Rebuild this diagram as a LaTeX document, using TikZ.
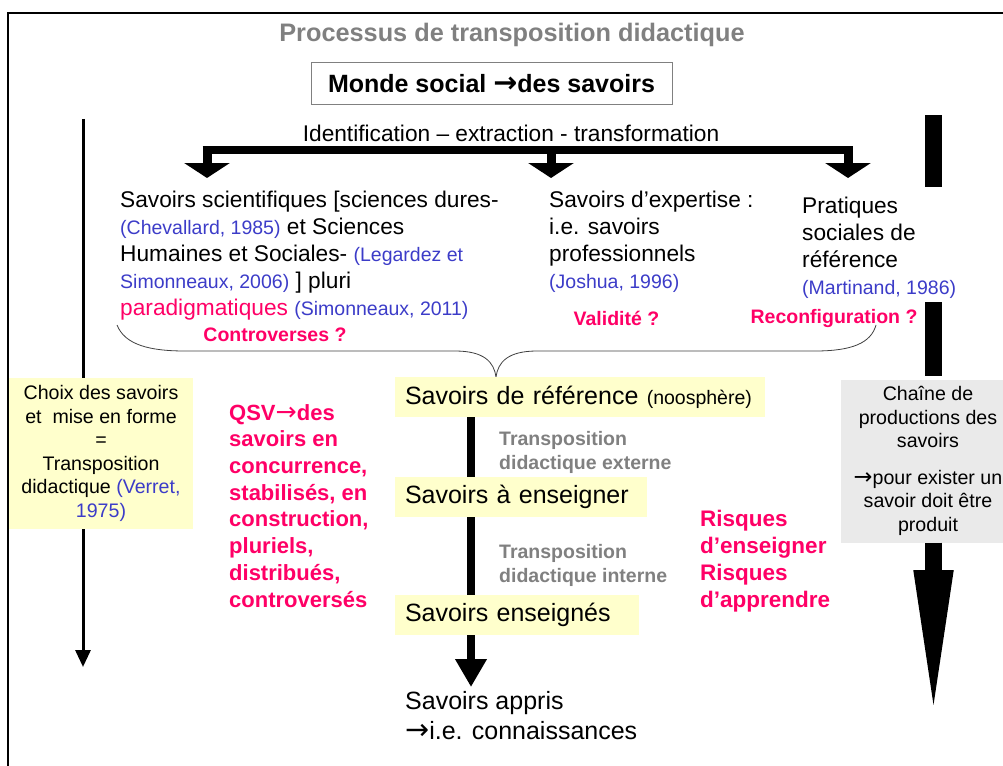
\documentclass[tikz,border=0pt]{standalone}
\usepackage{fontspec}
\setmainfont{Liberation Sans}
\newfontfamily\arrfont{DejaVu Sans}
\usetikzlibrary{arrows.meta}
\definecolor{cred}{RGB}{255,0,102}
\definecolor{cblue}{RGB}{60,60,200}
\definecolor{cgray}{RGB}{128,128,128}
\definecolor{cyel}{RGB}{255,255,204}
\definecolor{cbox}{RGB}{234,234,234}
\newcommand{\arr}{{\arrfont\scalebox{1.15}{→}}}
\newcommand{\cit}[1]{{\fontsize{19.5}{27}\selectfont\color{cblue}#1}}
\tikzset{
  plain/.style={inner sep=0pt, align=left, anchor=base west},
  txt/.style={plain, font=\fontsize{22.7}{27}\selectfont},
  redq/.style={inner sep=0pt, font=\bfseries\fontsize{19.5}{24}\selectfont, text=cred},
  grayt/.style={plain, font=\bfseries\fontsize{19.5}{24}\selectfont, text=cgray},
  yelbox/.style={fill=cyel, inner xsep=10pt, inner ysep=0pt, minimum height=40pt, align=left, font=\fontsize{25}{30}\selectfont},
  shaft/.style={line width=8pt},
  bigbar/.style={fill=black},
}
\begin{document}
\begin{tikzpicture}[x=1pt,y=-1pt]
\useasboundingbox (0,0) rectangle (1003,765);
% frame
\draw[line width=2pt] (8,766) -- (8,13) -- (1004,13);
% title
\node[font=\bfseries\fontsize{25.3}{28}\selectfont, text=cgray] (title) at (512,35) {Processus de transposition didactique};
\node[draw=cgray, line width=1pt, minimum width=361pt, minimum height=42pt, inner sep=0pt, font=\bfseries\fontsize{25}{28}\selectfont] (monde) at (491.5,84) {Monde social \arr des savoirs};
\node[font=\fontsize{22.7}{27}\selectfont, inner sep=0pt] (ident) at (511,133) {Identification – extraction - transformation};
% three arrows
\coordinate (b1) at (207,150);
\coordinate (b2) at (551,150);
\coordinate (b3) at (848,150);
\coordinate (t1) at (207,178);
\coordinate (t2) at (551,178);
\coordinate (t3) at (848,178);
\draw[line width=8pt] ([xshift=-4.5pt]b1) -- ([xshift=4.5pt]b3);
\foreach \i in {1,2,3}{
  \draw[line width=9pt, -{Triangle[width=45pt,length=15pt]}] (b\i) -- (t\i);
}
% top text blocks (base = last line)
\node[txt] (sci) at (120,315) {Savoirs scientifiques [sciences dures-\\\cit{(Chevallard, 1985)} et Sciences\\Humaines et Sociales- \cit{(Legardez et}\\\cit{Simonneaux, 2006)} ] pluri\\{\color{cred}paradigmatiques} \cit{(Simonneaux, 2011)}};
\node[txt] (exp) at (549,288) {Savoirs d’expertise :\\i.e. savoirs\\professionnels\\\cit{(Joshua, 1996)}};
\node[txt] (prat) at (802,294) {Pratiques\\sociales de\\référence\\\cit{(Martinand, 1986)}};
\node[redq] (contro) at (275,335) {Controverses ?};
\node[redq] (valid) at (616.5,318) {Validité ?};
\node[redq] (reconf) at (834,318) {Reconfiguration ?};
% brace
\coordinate (brL) at (117,325);
\coordinate (brR) at (876,325);
\coordinate (brT) at (496,377);
\draw[line width=0.8pt, black!75] (brL) .. controls (125,345) and (150,351) .. (185,351) -- (455,351) .. controls (484,351) and (494,362) .. (brT) .. controls (498,362) and (508,351) .. (537,351) -- (815,351) .. controls (852,351) and (871,343) .. (brR);
% left arrow and box
\draw[line width=3pt, -{Triangle[width=15pt,length=17pt]}] (83,119) coordinate (lt) -- (83,667) coordinate (lb);
\node[fill=cyel, minimum width=184pt, minimum height=151pt, inner sep=0pt, align=center, font=\fontsize{19.6}{23.5}\selectfont] (choix) at (101,453.5) {Choix des savoirs\\et\ \ mise en forme\\=\\Transposition\\didactique {\color{cblue}(Verret,}\\{\color{cblue}1975)}};
% QSV
\node[plain, font=\bfseries\fontsize{22}{26.7}\selectfont, text=cred] (qsv) at (229,607) {QSV{\mdseries\arr}des\\savoirs en\\concurrence,\\stabilisés, en\\construction,\\pluriels,\\distribués,\\controversés};
% center column
\node[yelbox, text width=350pt] (ref) at (580,397) {Savoirs de référence {\fontsize{19.5}{24}\selectfont(noosphère)}};
\node[yelbox, text width=232pt] (aens) at (521,497) {Savoirs à enseigner};
\node[yelbox, text width=224pt] (ensd) at (517,615) {Savoirs enseignés};
\coordinate (cx) at (471,0);
\draw[shaft] (ref.south -| cx) -- (aens.north -| cx);
\draw[shaft] (aens.south -| cx) -- (ensd.north -| cx);
\coordinate (tipc) at (471,687);
\draw[shaft, -{Triangle[width=30pt,length=28pt]}] (ensd.south -| cx) -- (tipc);
\node[plain, font=\fontsize{25}{30}\selectfont] (appris) at (405,739) {Savoirs appris\\\arr i.e. connaissances};
\node[grayt] (ext) at (499,469) {Transposition\\didactique externe};
\node[grayt] (int) at (499,582) {Transposition\\didactique interne};
\node[plain, font=\bfseries\fontsize{22.5}{26.7}\selectfont, text=cred] (risq) at (700,607) {Risques\\d’enseigner\\Risques\\d’apprendre};
% right chain
\fill[bigbar] (925,115) rectangle (942,187);
\fill[bigbar] (925,302) rectangle (942,376);
\node[fill=cbox, minimum width=174pt, minimum height=163pt, inner sep=0pt, align=center, font=\fontsize{19.6}{23.5}\selectfont] (chaine) at (928,461) {Chaîne de\\productions des\\savoirs\\[13pt]\arr pour exister un\\savoir doit être\\produit};
\coordinate (tipr) at (933.5,722);
\draw[line width=17pt, -{Triangle[width=35pt,length=152pt]}] (chaine.south -| tipr) -- (tipr);
\end{tikzpicture}
\end{document}
